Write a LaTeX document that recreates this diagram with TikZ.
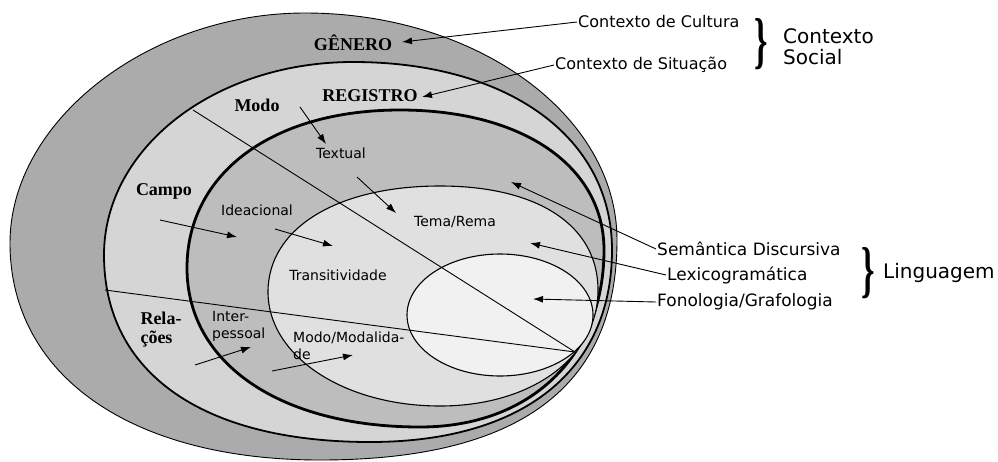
\documentclass[tikz,border=0pt]{standalone}
\usepackage{fontspec}
\usepackage{graphicx}
\setmainfont{Liberation Serif}
\newfontfamily\dv{DejaVu Sans}
\usetikzlibrary{arrows.meta}
\definecolor{ringA}{HTML}{ABABAB}
\definecolor{ringB}{HTML}{D5D5D5}
\definecolor{ringC}{HTML}{BDBDBD}
\definecolor{ringD}{HTML}{E0E0E0}
\definecolor{ringE}{HTML}{F1F1F1}
\tikzset{
  boldlbl/.style={font=\fontsize{18}{19}\selectfont\bfseries, inner sep=1pt},
  smalllbl/.style={font=\dv\fontsize{14}{17}\selectfont, inner sep=1pt},
  ctxlbl/.style={font=\dv\fontsize{16}{18}\selectfont, inner sep=1pt, anchor=west},
  linglbl/.style={font=\dv\fontsize{17}{19}\selectfont, inner sep=1pt, anchor=west},
  biglbl/.style={font=\dv\fontsize{20}{21}\selectfont, inner sep=1pt, anchor=west, align=left},
  arr/.style={line width=0.9pt, -{Latex[length=10pt,width=7pt]}},
  thinline/.style={line width=0.9pt},
  bracenode/.style={inner sep=0pt, font=\fontsize{62}{62}\selectfont\bfseries},
}
\begin{document}
\begin{tikzpicture}[x=1pt,y=-1pt]
\useasboundingbox (0,0) rectangle (998,461);
% rings (each closed from four quarter curves)
\filldraw[fill=ringA, draw=black, line width=0.9pt]
  (10,243) .. controls (10,121) and (148.6,13) .. (305,13)
  .. controls (476.6,13) and (617,115.2) .. (617,240)
  .. controls (617,387.4) and (519,460) .. (320,460)
  .. controls (130.9,460) and (10,375.4) .. (10,243) -- cycle;
\filldraw[fill=ringB, draw=black, line width=1.8pt]
  (104,255) .. controls (104,147.9) and (214.8,62) .. (353,62)
  .. controls (508.4,62) and (612,137.2) .. (612,250)
  .. controls (612,371) and (522.5,442) .. (370,442)
  .. controls (202.4,442) and (104,372.8) .. (104,255) -- cycle;
\filldraw[fill=ringC, draw=black, line width=2.8pt]
  (187,268) .. controls (187,173.2) and (272.2,110) .. (400,110)
  .. controls (522.4,110) and (604,166) .. (604,250)
  .. controls (604,356.2) and (530.4,427) .. (420,427)
  .. controls (280.2,427) and (187,363.4) .. (187,268) -- cycle;
\filldraw[fill=ringD, draw=black, line width=1.1pt]
  (268,292) .. controls (268,228.4) and (336.8,186) .. (440,186)
  .. controls (538,186) and (598,225.5) .. (598,290)
  .. controls (598,357.3) and (531.6,406) .. (440,406)
  .. controls (343.7,406) and (268,355.8) .. (268,292) -- cycle;
\filldraw[fill=ringE, draw=black, line width=1.1pt] (500,315) ellipse [x radius=93, y radius=61];
% meeting point and division lines
\coordinate (P) at (575,352);
\coordinate (L1) at (193,110);
\coordinate (L2) at (105,290);
\draw[thinline] (L1) -- (P);
\draw[thinline] (L2) -- (P);
% labels
\node[boldlbl] (genero) at (353,43) {GÊNERO};
\node[boldlbl] (registro) at (370,96) {REGISTRO};
\node[boldlbl] (modo) at (257,105) {Modo};
\node[boldlbl] (campo) at (164,191) {Campo};
\node[boldlbl, align=left] (relacoes) at (161,330) {Rela-\\ções};
\node[smalllbl] (textual) at (341,153) {Textual};
\node[smalllbl] (ideacional) at (257,210) {Ideacional};
\node[smalllbl] (tema) at (455,222) {Tema/Rema};
\node[smalllbl] (transit) at (338,275) {Transitividade};
\node[smalllbl, align=left, anchor=west] (inter) at (211,326) {Inter-\\pessoal};
\node[smalllbl, align=left, anchor=west] (modal) at (292,346) {Modo/Modalida-\\de};
\node[ctxlbl] (cultura) at (577,22) {Contexto de Cultura};
\node[ctxlbl] (situacao) at (554,65) {Contexto de Situação};
\node[biglbl] (social) at (782,47) {Contexto\\Social};
\node[linglbl] (semantica) at (656,249) {Semântica Discursiva};
\node[linglbl] (lexico) at (666,275) {Lexicogramática};
\node[linglbl] (fono) at (656,302) {Fonologia/Grafologia};
\node[biglbl] (linguagem) at (882,273) {Linguagem};
% braces
\node[bracenode] (brace1) at (761,44) {\scalebox{0.55}[1]{\}}};
\node[bracenode] (brace2) at (868,273) {\scalebox{0.55}[1]{\}}};
% arrow targets
\coordinate (tGen) at (402,42);
\coordinate (tReg) at (422,97);
\coordinate (tSem) at (511,182);
\coordinate (tLex) at (530,243);
\coordinate (tFon) at (533,299);
\coordinate (sModo) at (300,107);
\coordinate (tModo) at (326,144);
\coordinate (sText) at (357,177);
\coordinate (tText) at (396,213);
\coordinate (sCampo) at (160,220);
\coordinate (tCampo) at (237,237);
\coordinate (sIdea) at (275,229);
\coordinate (tIdea) at (333,246);
\coordinate (sRel) at (195,365);
\coordinate (tRel) at (251,347);
\coordinate (sModal) at (272,371);
\coordinate (tModal) at (353,355);
% arrows
\draw[arr] (cultura.west) -- (tGen);
\draw[arr] (situacao.west) -- (tReg);
\draw[arr] (semantica.west) -- (tSem);
\draw[arr] (lexico.west) -- (tLex);
\draw[arr] (fono.west) -- (tFon);
\draw[arr] (sModo) -- (tModo);
\draw[arr] (sText) -- (tText);
\draw[arr] (sCampo) -- (tCampo);
\draw[arr] (sIdea) -- (tIdea);
\draw[arr] (sRel) -- (tRel);
\draw[arr] (sModal) -- (tModal);
\end{tikzpicture}
\end{document}
